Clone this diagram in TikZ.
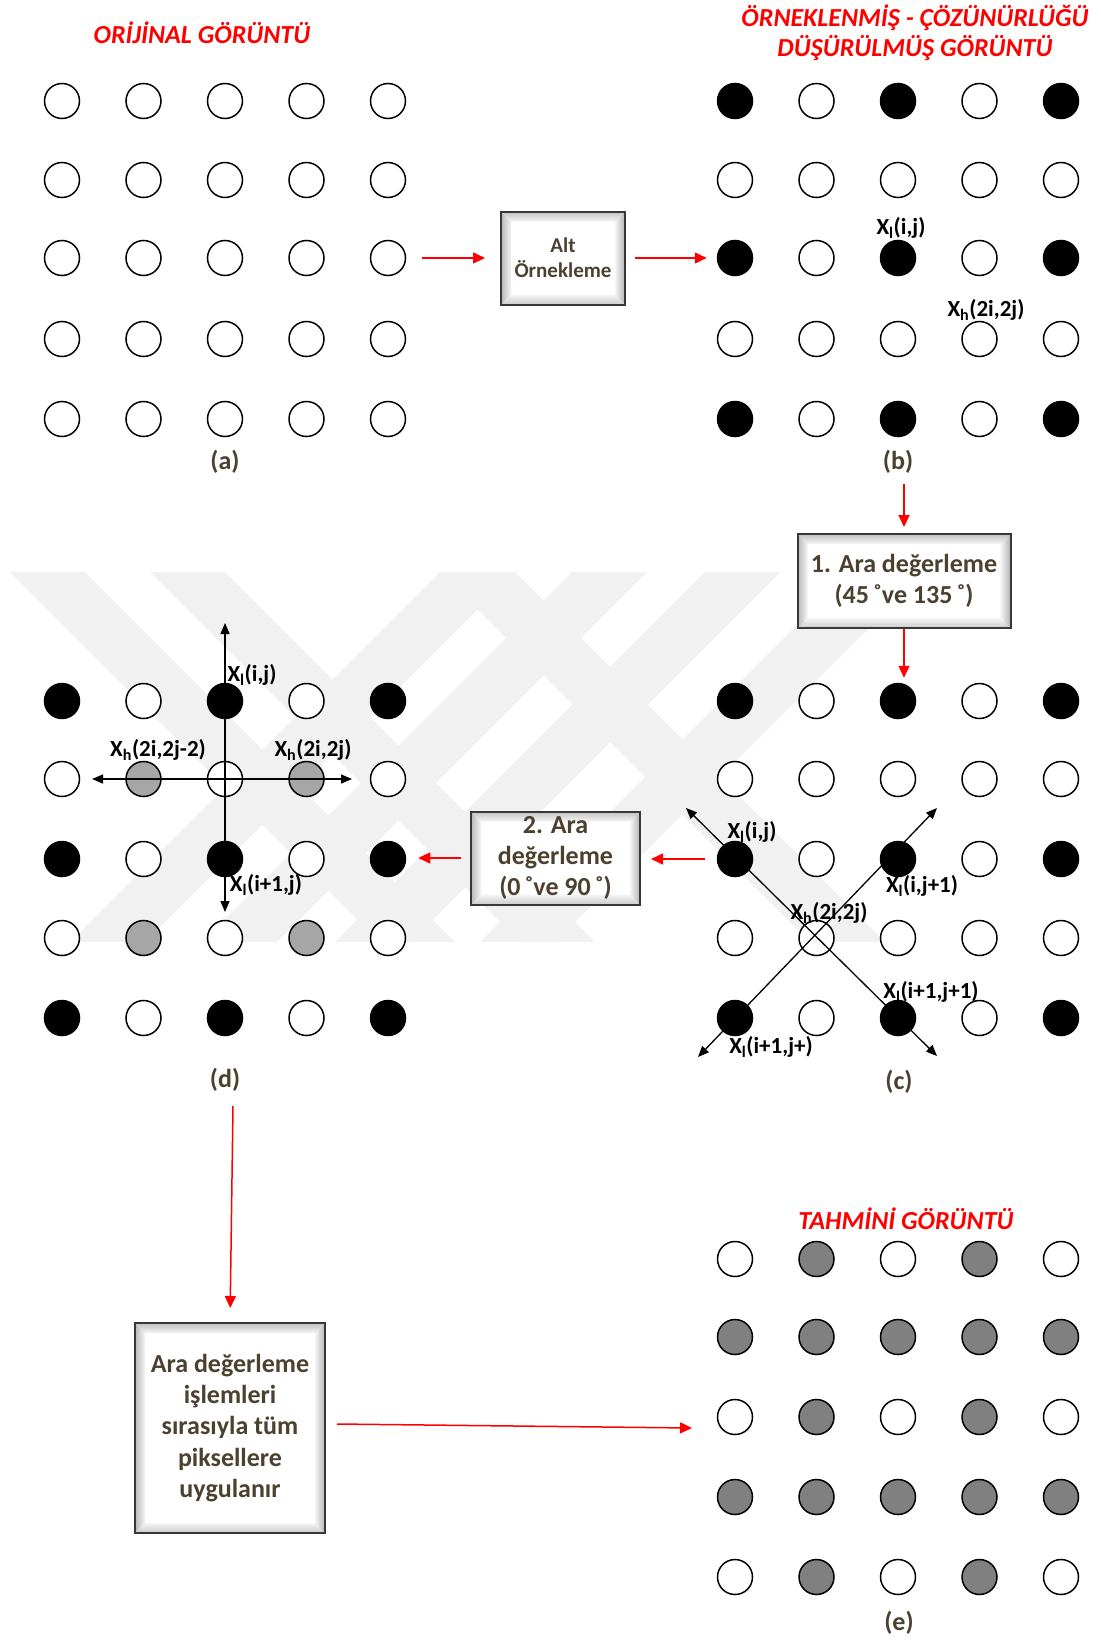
\documentclass[tikz,border=0pt]{standalone}
\usepackage{fontspec}
\setmainfont{Carlito}
\usetikzlibrary{arrows.meta}
\definecolor{txtbrown}{RGB}{76,64,46}
\definecolor{wmgray}{RGB}{241,241,241}
\definecolor{gryd}{RGB}{166,166,166}
\definecolor{grye}{RGB}{128,128,128}
\begin{document}
\begin{tikzpicture}[x=1pt,y=-1pt,
  pix/.style={circle, draw=black, line width=1.5pt, minimum size=35pt, inner sep=0pt, fill=white},
  wm/.style={fill=wmgray},
  redarr/.style={draw=red, line width=1.5pt, -{Triangle[length=12pt,width=11pt]}},
  blkarr/.style={draw=black, line width=1.3pt, {Triangle[length=11pt,width=9pt]}-{Triangle[length=11pt,width=9pt]}},
  title/.style={font=\bfseries\itshape\fontsize{26}{30}\selectfont, text=red, align=center, inner sep=0pt},
  sublbl/.style={font=\bfseries\fontsize{26}{30}\selectfont, text=txtbrown, inner sep=0pt},
  lbl/.style={font=\bfseries\fontsize{23}{27}\selectfont, text=black, inner sep=0pt},
  bevel/.style={rectangle, draw=black!78, line width=2pt, inner sep=0pt, align=center, text=txtbrown,
    path picture={
      \coordinate (pNW) at (path picture bounding box.north west);
      \coordinate (pNE) at (path picture bounding box.north east);
      \coordinate (pSW) at (path picture bounding box.south west);
      \coordinate (pSE) at (path picture bounding box.south east);
      \fill[white] (pNW) rectangle (pSE);
      \shade[top color=black!24, bottom color=black!4] (pNW) -- (pNE) -- ([shift={(-10,10)}]pNE) -- ([shift={(10,10)}]pNW) -- cycle;
      \shade[top color=black!4, bottom color=black!20] (pSW) -- (pSE) -- ([shift={(-10,-10)}]pSE) -- ([shift={(10,-10)}]pSW) -- cycle;
      \shade[left color=black!28, right color=black!4] (pNW) -- ([shift={(10,10)}]pNW) -- ([shift={(10,-10)}]pSW) -- (pSW) -- cycle;
      \shade[left color=black!4, right color=black!30] (pNE) -- ([shift={(-10,10)}]pNE) -- ([shift={(-10,-10)}]pSE) -- (pSE) -- cycle;
    }}
]
\fill[white] (0,0) rectangle (1100,1640);
\useasboundingbox (0,0) rectangle (1100,1640);

% watermark
\fill[wm] (10,572) -- (85,572) -- (455,942) -- (380,942) -- cycle;
\fill[wm] (150,572) -- (225,572) -- (595,942) -- (520,942) -- cycle;
\fill[wm] (440,572) -- (515,572) -- (145,942) -- (70,942) -- cycle;
\fill[wm] (572,572) -- (647,572) -- (277,942) -- (202,942) -- cycle;
\fill[wm] (705,572) -- (780,572) -- (410,942) -- (335,942) -- cycle;
\fill[wm] (850,572) -- (925,572) -- (555,942) -- (480,942) -- cycle;
\fill[wm] (440,572) -- (515,572) -- (885,942) -- (810,942) -- cycle;

% titles
\node[title] (t1) at (202,33) {ORİJİNAL GÖRÜNTÜ};
\node[title] (t2) at (915,33) {ÖRNEKLENMİŞ - ÇÖZÜNÜRLÜĞÜ\\DÜŞÜRÜLMÜŞ GÖRÜNTÜ};
\node[title] (t3) at (906,1219) {TAHMİNİ GÖRÜNTÜ};

% grid (a)
\foreach \r/\y in {1/101,2/180,3/258,4/339,5/419}
  \foreach \c/\x in {1/62,2/143.5,3/225,4/306.5,5/388}
    \node[pix] (a\r\c) at (\x,\y) {};
% grid (b)
\foreach \r/\y in {1/101,2/180,3/258,4/339,5/419}
  \foreach \c/\x in {1/735,2/816.5,3/898,4/979.5,5/1061}{
    \def\fc{white}
    \ifodd\r\relax\ifodd\c\relax\def\fc{black}\fi\fi
    \node[pix, fill=\fc] (b\r\c) at (\x,\y) {};
  }
% grid (c)
\foreach \r/\y in {1/701,2/779,3/859,4/938,5/1018}
  \foreach \c/\x in {1/735,2/816.5,3/898,4/979.5,5/1061}{
    \def\fc{white}
    \ifodd\r\relax\ifodd\c\relax\def\fc{black}\fi\fi
    \node[pix, fill=\fc] (c\r\c) at (\x,\y) {};
  }
% grid (d)
\foreach \r/\y in {1/701,2/779,3/859,4/938,5/1018}
  \foreach \c/\x in {1/62,2/143.5,3/225,4/306.5,5/388}{
    \def\fc{white}
    \ifodd\r\relax\ifodd\c\relax\def\fc{black}\fi\else\ifodd\c\relax\else\def\fc{gryd}\fi\fi
    \node[pix, fill=\fc] (d\r\c) at (\x,\y) {};
  }
% grid (e)
\foreach \r/\y in {1/1259,2/1337,3/1417,4/1497,5/1577}
  \foreach \c/\x in {1/735,2/816.5,3/898,4/979.5,5/1061}{
    \def\fc{grye}
    \ifodd\r\relax\ifodd\c\relax\def\fc{white}\fi\fi
    \node[pix, fill=\fc] (e\r\c) at (\x,\y) {};
  }

% sub labels
\node[sublbl] (la) at (225,462) {(a)};
\node[sublbl] (lb) at (898,462) {(b)};
\node[sublbl] (lc) at (899,1082) {(c)};
\node[sublbl] (ld) at (225,1080) {(d)};
\node[sublbl] (le) at (899,1623) {(e)};

% boxes
\node[bevel, minimum width=124pt, minimum height=93pt, font=\bfseries\fontsize{21}{25}\selectfont] (boxA) at (563,258) {Alt\\Örnekleme};
\node[bevel, minimum width=213pt, minimum height=94pt, font=\bfseries\fontsize{26}{31}\selectfont] (box1) at (904,581) {1. Ara değerleme\\(45\,˚ve 135\,˚)};
\node[bevel, minimum width=169pt, minimum height=93pt, font=\bfseries\fontsize{26}{31}\selectfont] (box2) at (555.5,858) {2. Ara\\değerleme\\(0\,˚ve 90\,˚)};
\node[bevel, minimum width=190pt, minimum height=210pt, font=\bfseries\fontsize{26}{31.2}\selectfont] (box3) at (230,1428) {Ara değerleme\\işlemleri\\sırasıyla tüm\\piksellere\\uygulanır};

% labels in (b)
\node[lbl] (lb1) at (901,228) {X\textsubscript{l}(i,j)};
\node[lbl] (lb2) at (986,310) {X\textsubscript{h}(2i,2j)};

% arrows in (d)
\coordinate (dvt) at (225,623);
\coordinate (dvb) at (225,912);
\coordinate (dhl) at (92,779);
\coordinate (dhr) at (352,779);
\draw[blkarr] (dvt) -- (dvb);
\draw[blkarr] (dhl) -- (dhr);
\node[lbl] (ld1) at (252,675) {X\textsubscript{l}(i,j)};
\node[lbl] (ld2) at (158,750) {X\textsubscript{h}(2i,2j-2)};
\node[lbl] (ld3) at (313,750) {X\textsubscript{h}(2i,2j)};
\node[lbl] (ld4) at (266,885) {X\textsubscript{l}(i+1,j)};

% arrows in (c)
\coordinate (cul) at (686,808);
\coordinate (clr) at (937,1056);
\coordinate (cur) at (937,808);
\coordinate (cll) at (698,1057);
\draw[blkarr] (cul) -- (clr);
\draw[blkarr] (cur) -- (cll);
\node[lbl] (lc1) at (752,832) {X\textsubscript{l}(i,j)};
\node[lbl] (lc2) at (922,886) {X\textsubscript{l}(i,j+1)};
\node[lbl] (lc3) at (829,913) {X\textsubscript{h}(2i,2j)};
\node[lbl] (lc4) at (931,992) {X\textsubscript{l}(i+1,j+1)};
\node[lbl] (lc5) at (771,1047) {X\textsubscript{l}(i+1,j+)};

% red flow arrows
\draw[redarr, shorten <=16pt, shorten >=15pt] (a35) -- (boxA);
\draw[redarr, shorten <=9pt, shorten >=10pt] (boxA) -- (b31);
\coordinate (b1s) at (904,484);
\draw[redarr, shorten >=6pt] (b1s) -- (box1.north);
\draw[redarr, shorten >=5pt] (box1.south) -- (box1.south |- c13.north);
\draw[redarr, shorten <=12pt, shorten >=10pt] (c31.west) -- (c31.west -| box2.east);
\draw[redarr, shorten <=9pt, shorten >=12pt] (box2.west) -- (box2.west -| d35.east);
\coordinate (d1s) at (233,1106);
\draw[redarr, shorten >=14pt] (d1s) -- (box3.north);
\coordinate (b3s) at (337,1424);
\coordinate (ein) at (692,1428);
\draw[redarr] (b3s) -- (ein);
\end{tikzpicture}
\end{document}
